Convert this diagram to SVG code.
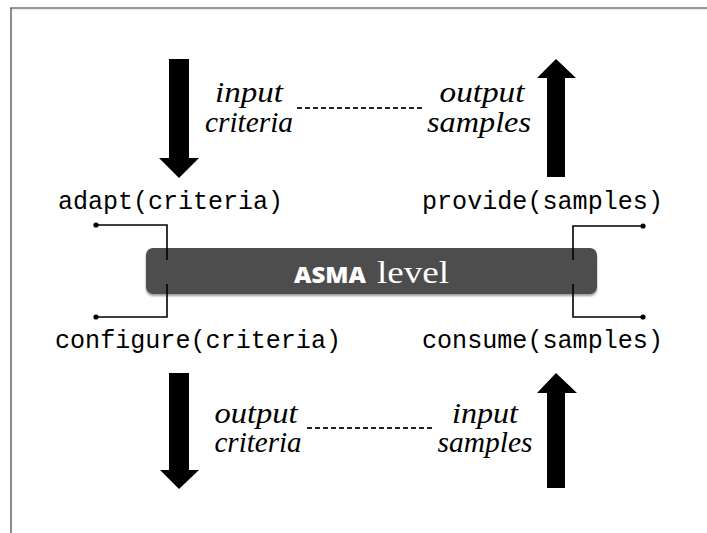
<svg xmlns="http://www.w3.org/2000/svg" width="707" height="533" viewBox="0 0 707 533">
<style>
.mono{font-family:"Liberation Mono","DejaVu Sans Mono",monospace;font-size:25px;fill:#000}
.lbl{font-family:"Liberation Serif","DejaVu Serif",serif;font-style:italic;font-size:29px;fill:#000;text-anchor:middle}
.conn{fill:none;stroke:#000;stroke-width:1.6}
.dash{fill:none;stroke:#222;stroke-width:2;stroke-dasharray:5 3}
.arrow{fill:#000}
</style>
<defs>
<filter id="sh" x="-5%" y="-20%" width="110%" height="150%">
<feGaussianBlur in="SourceAlpha" stdDeviation="1.2"/>
<feOffset dx="0" dy="1.5" result="b"/>
<feComponentTransfer><feFuncA type="linear" slope="0.4"/></feComponentTransfer>
<feMerge><feMergeNode/><feMergeNode in="SourceGraphic"/></feMerge>
</filter>
</defs>
<rect width="707" height="533" fill="#fff"/>
<g id="frame">
<line x1="11" y1="9" x2="707" y2="9" stroke="#eee" stroke-width="3"/>
<line x1="10" y1="8" x2="707" y2="8" stroke="#777" stroke-width="1.5"/>
<line x1="11" y1="8" x2="11" y2="533" stroke="#666" stroke-width="1.5"/>
</g>
<g id="asma">
<rect x="146" y="248" width="451" height="46" rx="7" fill="#4e4e4e" filter="url(#sh)"/>
<text x="294" y="283" font-family="'Open Sans',Lato,'Liberation Sans',sans-serif" font-weight="800" font-size="23" fill="#fff" textLength="72" lengthAdjust="spacingAndGlyphs">ASMA</text>
<text x="377" y="283" font-family="'Liberation Serif',serif" font-size="32" fill="#fff" textLength="72" lengthAdjust="spacingAndGlyphs">level</text>
</g>
<g id="connectors">
<polyline class="conn" points="96,225 167,225 167,260"/>
<polyline class="conn" points="167,284 167,317 96,317"/>
<polyline class="conn" points="573,260 573,226 643,226"/>
<polyline class="conn" points="573,284 573,317 643,317"/>
<circle cx="96" cy="225" r="2.6"/>
<circle cx="96" cy="317" r="2.6"/>
<circle cx="643" cy="226" r="2.6"/>
<circle cx="643" cy="317" r="2.6"/>
<line class="dash" x1="297" y1="108" x2="424" y2="108"/>
<line class="dash" x1="307" y1="428" x2="435" y2="428"/>
</g>
<g id="arrow-in-criteria"><polygon class="arrow" points="169,59 189,59 189,158 199,158 179,178 159,158 169,158"/></g>
<g id="arrow-out-samples"><polygon class="arrow" points="556,59 576,78 565,78 565,177 547,177 547,78 537,78"/></g>
<g id="arrow-out-criteria"><polygon class="arrow" points="169,373 189,373 189,470 199,470 179,489 160,470 169,470"/></g>
<g id="arrow-in-samples"><polygon class="arrow" points="556,373 577,393 565,393 565,488 547,488 547,393 537,393"/></g>
<g id="adapt"><text class="mono" x="58" y="209" textLength="225" lengthAdjust="spacingAndGlyphs">adapt(criteria)</text></g>
<g id="configure"><text class="mono" x="55" y="348" textLength="286" lengthAdjust="spacingAndGlyphs">configure(criteria)</text></g>
<g id="provide"><text class="mono" x="422" y="209" textLength="241" lengthAdjust="spacingAndGlyphs">provide(samples)</text></g>
<g id="consume"><text class="mono" x="422" y="348" textLength="241" lengthAdjust="spacingAndGlyphs">consume(samples)</text></g>
<g id="label-input-criteria">
<text class="lbl" x="249" y="102" textLength="68" lengthAdjust="spacingAndGlyphs">input</text>
<text class="lbl" x="249" y="132" textLength="88" lengthAdjust="spacingAndGlyphs">criteria</text>
</g>
<g id="label-output-samples">
<text class="lbl" x="482" y="102" textLength="85" lengthAdjust="spacingAndGlyphs">output</text>
<text class="lbl" x="479" y="132" textLength="104" lengthAdjust="spacingAndGlyphs">samples</text>
</g>
<g id="label-output-criteria">
<text class="lbl" x="256" y="423" textLength="83" lengthAdjust="spacingAndGlyphs">output</text>
<text class="lbl" x="258" y="452" textLength="87" lengthAdjust="spacingAndGlyphs">criteria</text>
</g>
<g id="label-input-samples">
<text class="lbl" x="485" y="423" textLength="66" lengthAdjust="spacingAndGlyphs">input</text>
<text class="lbl" x="485" y="452" textLength="95" lengthAdjust="spacingAndGlyphs">samples</text>
</g>
</svg>
